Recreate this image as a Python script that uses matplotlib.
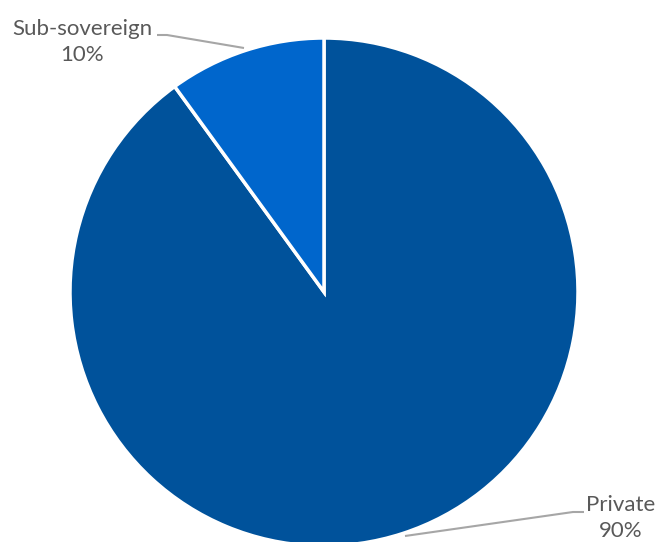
import matplotlib
matplotlib.use("Agg")
import matplotlib.pyplot as plt

categories = ["Private", "Sub-sovereign"]
values = [90, 10]
pct_labels = ["90%", "10%"]
colors = ["#00529B", "#0066CC"]

W, H = 658, 542
fig = plt.figure(figsize=(W / 100, H / 100), dpi=100)
ax = fig.add_axes([0, 0, 1, 1])

cx, cy, r = 324, H - 292, 254
ax.pie(values, colors=colors, startangle=90, counterclock=False,
       center=(cx, cy), radius=r, frame=True,
       wedgeprops=dict(edgecolor="white", linewidth=2.5))
ax.set_xlim(0, W)
ax.set_ylim(0, H)
ax.set_aspect("equal")
ax.axis("off")

txt = dict(color="#595959", fontsize=16, family=["Lato", "DejaVu Sans"],
           weight="normal", ha="center", va="center", linespacing=1.4)
ax.text(82, H - 42, f"{categories[1]}\n{pct_labels[1]}", **txt)
ax.text(621, H - 518, f"{categories[0]}\n{pct_labels[0]}", **txt)

lc = dict(color="#A6A6A6", linewidth=1.5, solid_capstyle="butt")
ax.plot([157, 167, 244], [H - 35, H - 35, H - 48], **lc)
ax.plot([584, 573, 405], [H - 512, H - 512, H - 536], **lc)

fig.savefig("out.png", dpi=100)
